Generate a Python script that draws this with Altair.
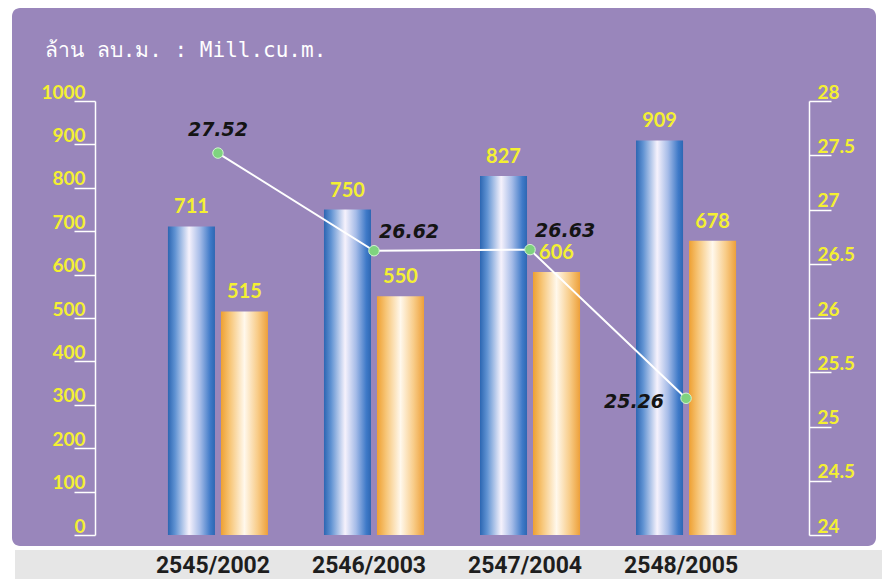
import altair as alt
import pandas as pd

years = ["2545/2002", "2546/2003", "2547/2004", "2548/2005"]
produced = [711, 750, 827, 909]
sold = [515, 550, 606, 678]
loss = [27.52, 26.62, 26.63, 25.26]
left_ticks = [0, 100, 200, 300, 400, 500, 600, 700, 800, 900, 1000]
right_ticks = [24, 24.5, 25, 25.5, 26, 26.5, 27, 27.5, 28]
title_text = "ล้าน ลบ.ม. : Mill.cu.m."

bars_df = pd.DataFrame({
    "year": years * 2,
    "series": ["produced"] * 4 + ["sold"] * 4,
    "value": produced + sold,
})
line_df = pd.DataFrame({"year": years, "loss": loss})
one = pd.DataFrame({"k": [0]})

YELLOW = "#f4f032"
PURPLE = "#9986bb"

x_enc = alt.X(
    "year:N", sort=years,
    scale=alt.Scale(paddingInner=0, paddingOuter=0.288),
    axis=alt.Axis(title=None, labelAngle=0, domain=False, ticks=False, zindex=2,
                  labelFont="Roboto", labelFontWeight="bold",
                  labelFontSize=23, labelColor="#1e1e1e", labelPadding=19,
                  labelOffset=-5),
)
xoff = alt.XOffset("series:N",
                   scale=alt.Scale(domain=["produced", "sold"],
                                   paddingInner=0.113, paddingOuter=0.528))

y_left = alt.Y(
    "value:Q", scale=alt.Scale(domain=[0, 1000], nice=False),
    axis=alt.Axis(title=None, orient="left", values=left_ticks, grid=False,
                  zindex=2, format="d",
                  domainColor="white", domainWidth=1.5, tickColor="white",
                  tickWidth=1.5, tickSize=21, labelPadding=-11,
                  labelAlign="right", labelBaseline="alphabetic", labelOffset=-3,
                  labelFont="Lato", labelFontWeight="bold", labelFontSize=19,
                  labelColor=YELLOW),
)
y_right = alt.Y(
    "loss:Q", scale=alt.Scale(domain=[24, 28], nice=False, zero=False),
    axis=alt.Axis(title=None, orient="right", values=right_ticks, grid=False,
                  format="~g", zindex=2,
                  domainColor="white", domainWidth=1.5, tickColor="white",
                  tickWidth=1.5, tickSize=22, labelPadding=-14,
                  labelAlign="left", labelBaseline="alphabetic", labelOffset=-3,
                  labelFont="Lato", labelFontWeight="bold", labelFontSize=19,
                  labelColor=YELLOW),
)

blue_grad = alt.Gradient(
    gradient="linear", x1=0, x2=1, y1=0, y2=0,
    stops=[
        alt.GradientStop(color="#2c66b2", offset=0),
        alt.GradientStop(color="#5f92d2", offset=0.15),
        alt.GradientStop(color="#f6f2fc", offset=0.45),
        alt.GradientStop(color="#a6bce8", offset=0.68),
        alt.GradientStop(color="#3f7ac8", offset=0.9),
        alt.GradientStop(color="#2d67b3", offset=1),
    ],
)
orange_grad = alt.Gradient(
    gradient="linear", x1=0, x2=1, y1=0, y2=0,
    stops=[
        alt.GradientStop(color="#eea032", offset=0),
        alt.GradientStop(color="#f7c77a", offset=0.2),
        alt.GradientStop(color="#fff8ec", offset=0.5),
        alt.GradientStop(color="#f8cc88", offset=0.78),
        alt.GradientStop(color="#eda03a", offset=1),
    ],
)

panel = alt.Chart(one).mark_rect(fill=PURPLE, cornerRadius=8).encode(
    x=alt.value(-83), x2=alt.value(781), y=alt.value(-93), y2=alt.value(445))
strip = alt.Chart(one).mark_rect(fill="#e6e6e6").encode(
    x=alt.value(-80), x2=alt.value(795), y=alt.value(449), y2=alt.value(480))
title = alt.Chart(one).mark_text(
    align="left", baseline="alphabetic", font="DejaVu Sans Mono", fontSize=21,
    color="white").encode(x=alt.value(-50), y=alt.value(-44),
                          text=alt.value(title_text))

base_b = alt.Chart(bars_df)
blue = base_b.transform_filter(alt.datum.series == "produced").mark_bar(
    fill=blue_grad).encode(x=x_enc, xOffset=xoff, y=y_left)
orange = base_b.transform_filter(alt.datum.series == "sold").mark_bar(
    fill=orange_grad).encode(x=x_enc, xOffset=xoff, y=y_left)
btext = base_b.mark_text(dy=-13, baseline="alphabetic", font="Lato",
                         fontWeight="bold", fontSize=20, color=YELLOW).encode(
    x=x_enc, xOffset=xoff, y=y_left, text="value:Q")

left_group = alt.layer(blue, orange, btext)

base_l = alt.Chart(line_df)
line = base_l.mark_line(color="white", strokeWidth=2).encode(x=x_enc, y=y_right)
pts = base_l.mark_point(filled=True, size=110, color="#7fd37f", stroke="#d2f5d2",
                        strokeWidth=1, opacity=1).encode(x=x_enc, y=y_right)
lab_style = dict(font="DejaVu Sans", fontWeight="bold", fontStyle="italic",
                 fontSize=19, color="#141414", baseline="alphabetic")
l1 = base_l.transform_filter(alt.datum.year == years[0]).mark_text(
    align="center", dx=0, dy=-17, **lab_style).encode(
    x=x_enc, y=y_right, text=alt.Text("loss:Q", format=".2f"))
l2 = base_l.transform_filter(
    (alt.datum.year == years[1]) | (alt.datum.year == years[2])).mark_text(
    align="left", dx=5, dy=-13, **lab_style).encode(
    x=x_enc, y=y_right, text=alt.Text("loss:Q", format=".2f"))
l3 = base_l.transform_filter(alt.datum.year == years[3]).mark_text(
    align="right", dx=-22, dy=10, **lab_style).encode(
    x=x_enc, y=y_right, text=alt.Text("loss:Q", format=".2f"))

right_group = alt.layer(line, pts, l1, l2, l3)

chart = alt.layer(panel, strip, title, left_group, right_group).resolve_scale(
    y="independent"
).properties(
    width=714, height=434,
    autosize=alt.AutoSizeParams(type="none"),
    padding={"left": 87, "right": 73, "top": 93, "bottom": 44},
    background="white",
).configure_view(stroke=None)

chart.save("out.html", embed_options={"renderer": "svg", "actions": False})
